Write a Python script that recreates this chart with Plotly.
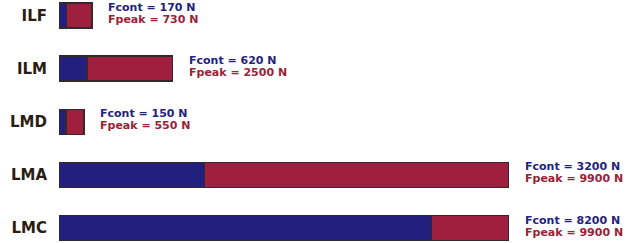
import plotly.graph_objects as go

muscles = ["ILF", "ILM", "LMD", "LMA", "LMC"]
f_cont = [170, 620, 150, 3200, 8200]
f_peak = [730, 2500, 550, 9900, 9900]

blue = "#221f7e"
red = "#9e1f3e"
blue_txt = "#24237c"
red_txt = "#9a2236"

extra = [p - c for p, c in zip(f_peak, f_cont)]

fig = go.Figure()
fig.add_trace(go.Bar(
    y=muscles, x=f_cont, orientation="h", name="Fcont",
    marker=dict(color=blue, line=dict(color="#332a2a", width=1.5)),
    width=0.47,
))
fig.add_trace(go.Bar(
    y=muscles, x=extra, orientation="h", name="Fpeak",
    marker=dict(color=red, line=dict(color="#332a2a", width=1.5)),
    width=0.47,
))

for m, c, p in zip(muscles, f_cont, f_peak):
    fig.add_annotation(
        x=p, y=m, xref="x", yref="y", xanchor="left", yanchor="middle",
        xshift=14, yshift=8, showarrow=False,
        text=f"Fcont = {c} N",
        font=dict(family="DejaVu Sans", size=11, color=blue_txt, weight="bold"),
    )
    fig.add_annotation(
        x=p, y=m, xref="x", yref="y", xanchor="left", yanchor="middle",
        xshift=14, yshift=-4, showarrow=False,
        text=f"Fpeak = {p} N",
        font=dict(family="DejaVu Sans", size=11, color=red_txt, weight="bold"),
    )

fig.update_layout(
    barmode="stack",
    width=629, height=243,
    margin=dict(l=59, r=120, t=0, b=0, autoexpand=False),
    paper_bgcolor="white", plot_bgcolor="white",
    showlegend=False,
    xaxis=dict(range=[0, 9900], visible=False, showgrid=False, zeroline=False,
               automargin=False),
    yaxis=dict(
        type="category", range=[4.28, -0.29], showgrid=False, zeroline=False,
        showline=False, ticks="", ticklabelstandoff=11, automargin=False,
        tickfont=dict(family="DejaVu Sans", size=15, color="#2a1c10", weight="bold"),
    ),
)

fig.write_html(
    "out.html",
    config={"displayModeBar": False},
    post_script="document.body.style.margin='0';document.body.style.overflow='hidden';",
)
